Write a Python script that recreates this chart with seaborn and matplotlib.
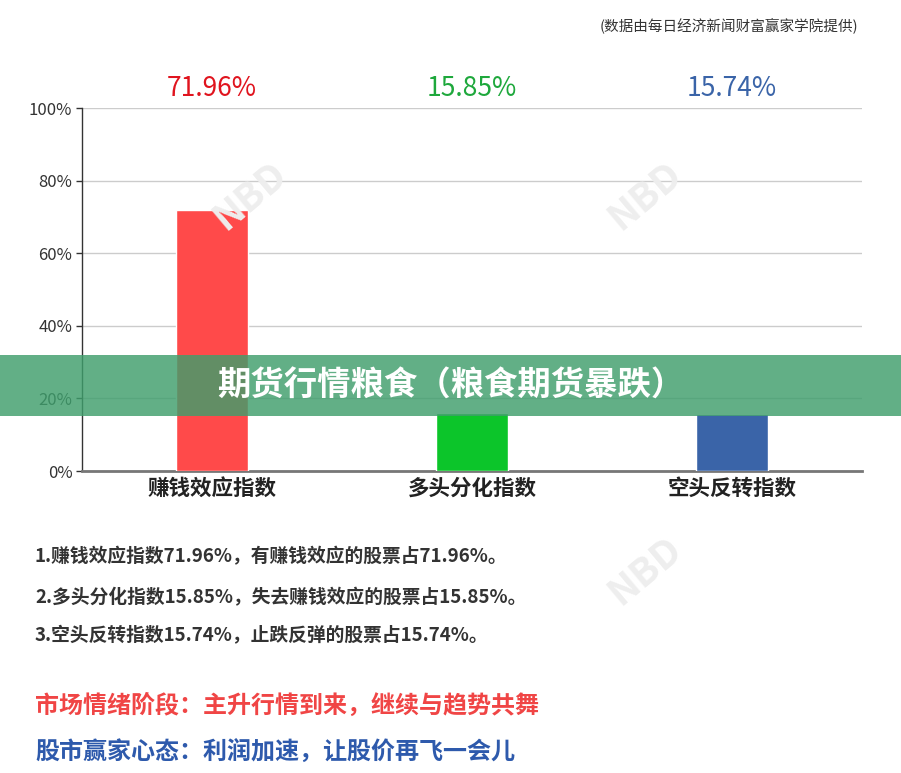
import matplotlib
matplotlib.use("Agg")
import matplotlib.pyplot as plt
import pandas as pd
import seaborn as sns
from matplotlib.patches import Rectangle

# chart data
categories = ["赚钱效应指数", "多头分化指数", "空头反转指数"]
values = [71.96, 15.85, 15.74]
bar_colors = ["#FF4A4A", "#0CC52A", "#3A64A8"]
label_colors = ["#E0141E", "#1EA83C", "#3A64A8"]
y_ticks = [0, 20, 40, 60, 80, 100]

notes = [
    "1.赚钱效应指数71.96%，有赚钱效应的股票占71.96%。",
    "2.多头分化指数15.85%，失去赚钱效应的股票占15.85%。",
    "3.空头反转指数15.74%，止跌反弹的股票占15.74%。",
]
stage_text = "市场情绪阶段：主升行情到来，继续与趋势共舞"
mood_text = "股市赢家心态：利润加速，让股价再飞一会儿"
banner_text = "期货行情粮食（粮食期货暴跌）"
source_text = "(数据由每日经济新闻财富赢家学院提供)"

df = pd.DataFrame({"category": categories, "value": values})

sns.set_style("white")
plt.rcParams["font.family"] = ["Noto Sans CJK SC", "DejaVu Sans"]

W, H = 901, 773
fig = plt.figure(figsize=(W / 100, H / 100), dpi=100)
fig.patch.set_facecolor("white")

# axes placed in pixel coordinates of the reference
ax = fig.add_axes([82 / W, 1 - 471 / H, 780 / W, 363 / H])
sns.barplot(data=df, x="category", y="value", hue="category",
            palette=bar_colors, width=0.277, saturation=1,
            legend=False, ax=ax, zorder=3)

ax.set_xlim(-0.5, 2.5)
ax.set_ylim(0, 100)
ax.set_yticks(y_ticks)
ax.set_yticklabels([f"{t}%" for t in y_ticks], fontsize=12, color="#333333")
ax.set_xlabel("")
ax.set_ylabel("")
ax.tick_params(axis="x", length=0, pad=5)
for lbl in ax.get_xticklabels():
    lbl.set_fontsize(15.5)
    lbl.set_fontweight("bold")
    lbl.set_color("#222222")
ax.tick_params(axis="y", length=4, width=1, color="#333333", pad=3, left=True)
ax.grid(axis="y", color="#cccccc", linewidth=1, zorder=0)
ax.set_axisbelow(True)
for side in ["top", "right"]:
    ax.spines[side].set_visible(False)
ax.spines["left"].set_color("#333333")
ax.spines["left"].set_linewidth(1)
ax.spines["bottom"].set_color("#777777")
ax.spines["bottom"].set_linewidth(2)

# value labels above the plot
for i, (v, c) in enumerate(zip(values, label_colors)):
    ax.text(i, 1.055, f"{v:.2f}%", transform=ax.get_xaxis_transform(),
            ha="center", va="center", fontsize=19, color=c)

# faint watermarks
for (wx, wy) in [(250, 195), (645, 195), (645, 570)]:
    fig.text(wx / W, 1 - wy / H, "NBD", rotation=40, fontsize=28,
             fontweight="bold", color="#eeeeee", ha="center", va="center",
             zorder=0)

# source note
fig.text(858 / W, 1 - 26 / H, source_text, ha="right", va="center",
         fontsize=10.5, color="#333333")

# green banner
fig.patches.append(Rectangle((0, 1 - 416 / H), 1, 61 / H,
                             transform=fig.transFigure,
                             facecolor="#3F9E6C", alpha=0.82,
                             edgecolor="none", zorder=5))
fig.text(0.5, 1 - 386 / H, banner_text, ha="center", va="center",
         fontsize=24, fontweight="bold", color="white", zorder=6)

# notes under the chart
for k, (line, y) in enumerate(zip(notes, [557, 598, 636])):
    fig.text(35 / W, 1 - y / H, line, ha="left", va="center",
             fontsize=13.5, fontweight="bold", color="#333333")

fig.text(35 / W, 1 - 706 / H, stage_text, ha="left", va="center",
         fontsize=17.3, fontweight="bold", color="#F04545")
fig.text(35 / W, 1 - 752 / H, mood_text, ha="left", va="center",
         fontsize=17.3, fontweight="bold", color="#2E5AAC")

fig.savefig("out.png", dpi=100, facecolor="white")
